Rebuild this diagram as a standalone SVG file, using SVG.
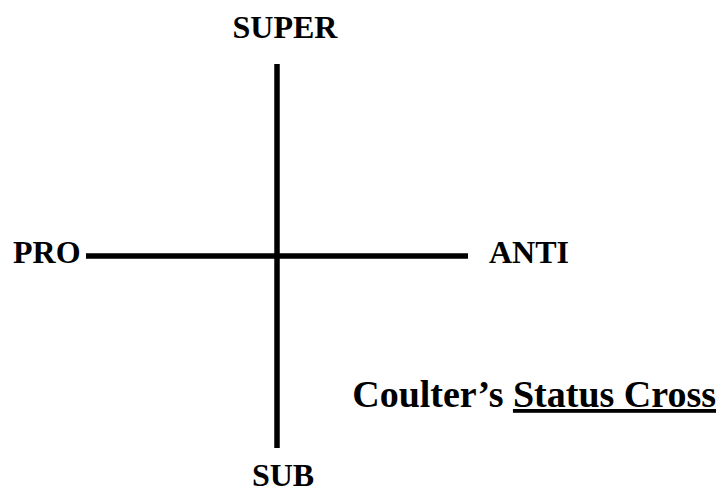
<svg xmlns="http://www.w3.org/2000/svg" width="719" height="489" viewBox="0 0 719 489">
<style>
text{font-family:"Liberation Serif","Times New Roman",serif;font-weight:bold;fill:#000}
.lbl{font-size:32px}
.axis{stroke:#000;stroke-width:5.5;fill:none}
</style>
<rect width="719" height="489" fill="#fff"/>
<g id="connectors">
<line class="axis" x1="277" y1="64" x2="277" y2="448"/>
<line class="axis" x1="86" y1="256" x2="468" y2="256"/>
</g>
<g id="super"><text class="lbl" x="285" y="38" text-anchor="middle">SUPER</text></g>
<g id="pro"><text class="lbl" x="13" y="263">PRO</text></g>
<g id="anti"><text class="lbl" x="489" y="263">ANTI</text></g>
<g id="sub"><text class="lbl" x="283" y="486" text-anchor="middle">SUB</text></g>
<g id="title"><text x="716" y="407" text-anchor="end" font-size="38">Coulter’s <tspan text-decoration="underline">Status Cross</tspan></text></g>
</svg>
